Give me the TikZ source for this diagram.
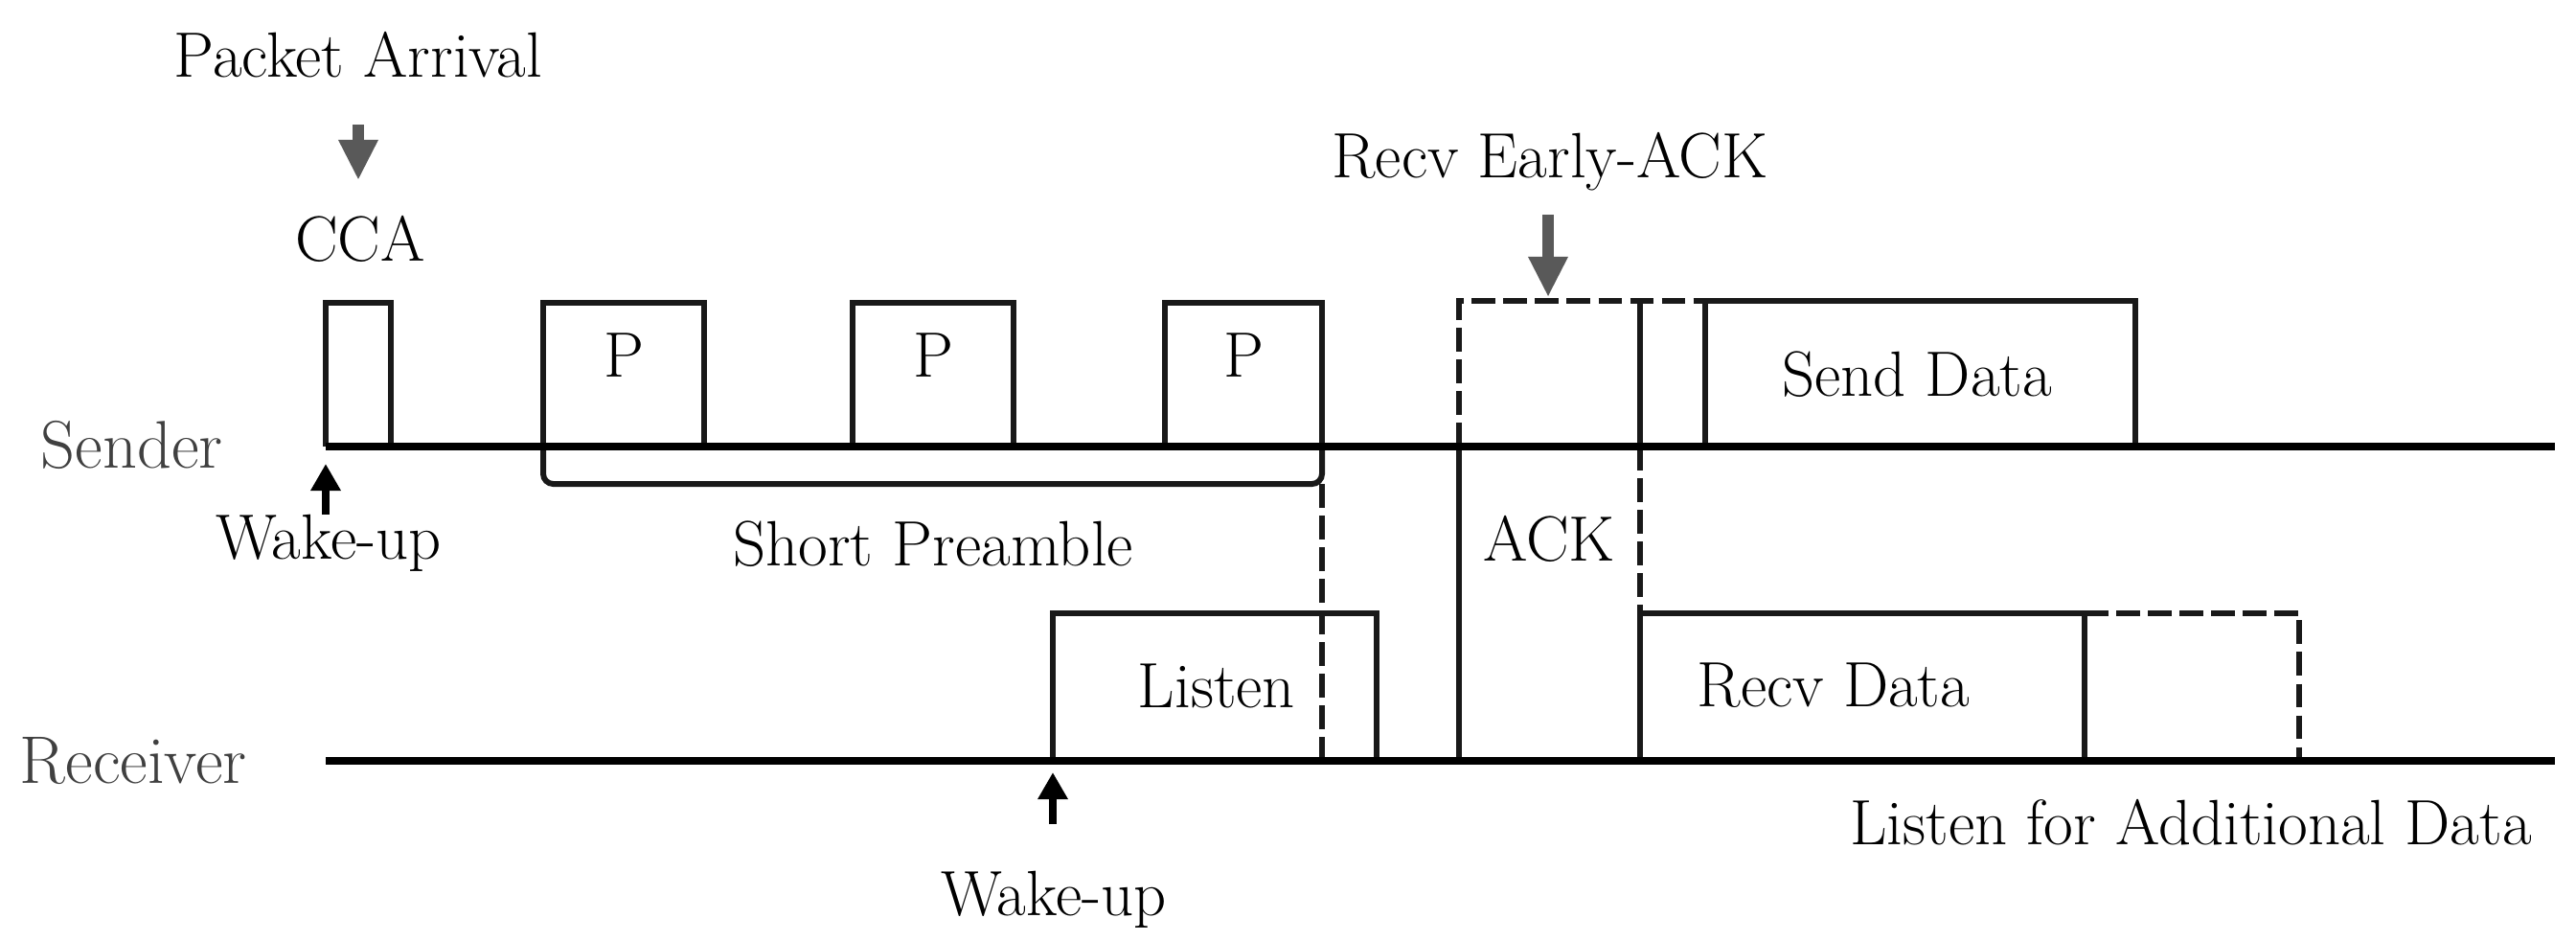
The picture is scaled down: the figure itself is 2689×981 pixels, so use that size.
\documentclass[tikz,border=0pt]{standalone}
\usetikzlibrary{arrows.meta}
\begin{document}
\begin{tikzpicture}[x=0.01cm, y=-0.01cm,
  every node/.style={font=\fontsize{19}{23}\selectfont, inner sep=0pt, anchor=base},
  axis/.style={line width=2.3pt, black},
  slot/.style={line width=1.7pt, black!90},
  slotdash/.style={slot, dash pattern=on 7pt off 2.4pt},
  event/.style={line width=3.2pt, black!65, -{Triangle[length=12pt, width=11pt]}},
  wake/.style={line width=2.2pt, black, -{Triangle[length=8pt, width=8.5pt]}},
  lane/.style={text=black!75, font=\fontsize{20}{24}\selectfont}]
\useasboundingbox (0,0) rectangle (2689,981);
% lanes
\node[lane, anchor=base west] (sender) at (42,488) {Sender};
\node[lane, anchor=base west] (receiver) at (20,817) {Receiver};
% sender side
\node (arrival) at (374,80) {Packet Arrival};
\coordinate (arrtop) at (374,130);
\coordinate (arrtip) at (374,188);
\draw[event] (arrtop) -- (arrtip);
\node (cca) at (376,272) {CCA};
\draw[slot] (340,466) |- (408,316) -- (408,466);
\foreach \a/\b/\i in {567/735/1, 890/1058/2, 1216/1380/3}{
  \draw[slot] (\a,466) |- (\b,316) -- (\b,466);
  \node (p\i) at ({(\a+\b)/2},393) {P};
}
\draw[slot, rounded corners=3pt] (567,466) |- (1380,505) -- (1380,466);
\node (preamble) at (974,590) {Short Preamble};
\draw[slotdash] (1380,505) -- (1380,794);
\coordinate (swtail) at (340,537);
\coordinate (swtip) at (340,484);
\draw[wake] (swtail) -- (swtip);
\node (swake) at (343,583) {Wake-up};
% early ack
\node (early) at (1618,185) {Recv Early-ACK};
\coordinate (eatop) at (1616,224);
\coordinate (eatip) at (1616,310);
\draw[event] (eatop) -- (eatip);
\draw[slotdash] (1523,466) |- (1780,314);
\draw[slot] (1523,466) -- (1523,794);
\draw[slot] (1712,314) -- (1712,466);
\draw[slotdash] (1712,466) -- (1712,640);
\node (ack) at (1617,585) {ACK};
\draw[slot] (1780,466) |- (2229,314) -- (2229,466);
\node (send) at (2001,413) {Send Data};
% receiver side
\draw[slot] (1099,794) |- (1437,640) -- (1437,794);
\node (listen) at (1270,738) {Listen};
\coordinate (rwtail) at (1099,860);
\coordinate (rwtip) at (1099,806);
\draw[wake] (rwtail) -- (rwtip);
\node (rwake) at (1100,955) {Wake-up};
\draw[slot] (1712,794) |- (2176,640) -- (2176,794);
\node (recv) at (1914,737) {Recv Data};
\draw[slotdash] (2176,640) -| (2400,794);
\node (extra) at (2287,881) {Listen for Additional Data};
% time lines
\draw[axis] (340,466) -- (2667,466);
\draw[axis] (340,794) -- (2667,794);
\end{tikzpicture}
\end{document}
